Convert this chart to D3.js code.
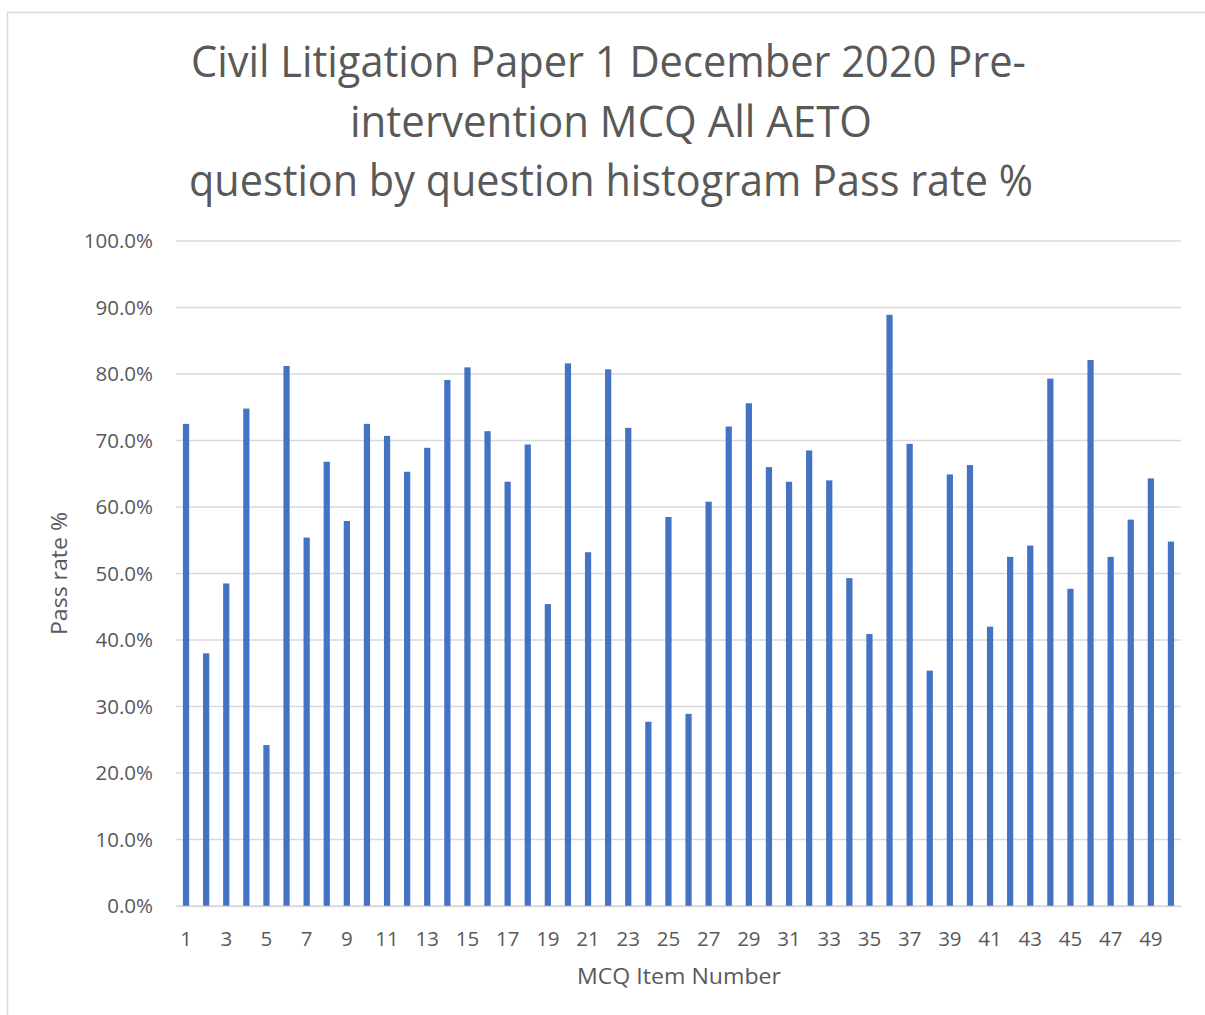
<!DOCTYPE html>
<html>
<head>
<meta charset="utf-8">
<script src="https://cdn.jsdelivr.net/npm/d3@7"></script>
<style>
  html, body { margin: 0; padding: 0; background: #ffffff; }
  svg { display: block; }
  text { font-family: "Open Sans", "Noto Sans", sans-serif; fill: #595959; }
</style>
</head>
<body>
<svg id="chart" width="1205" height="1015"></svg>
<script>
// ---- Data ----
const titleLines = [
  "Civil Litigation Paper 1 December 2020 Pre-",
  "intervention MCQ All AETO",
  "question by question histogram Pass rate %"
];
const xAxisTitle = "MCQ Item Number";
const yAxisTitle = "Pass rate %";
const items = d3.range(1, 51);
const passRates = [
  72.5, 38.0, 48.5, 74.8, 24.2, 81.2, 55.4, 66.8, 57.9, 72.5,
  70.7, 65.3, 68.9, 79.1, 81.0, 71.4, 63.8, 69.4, 45.4, 81.6,
  53.2, 80.7, 71.9, 27.7, 58.5, 28.9, 60.8, 72.1, 75.6, 66.0,
  63.8, 68.5, 64.0, 49.3, 40.9, 88.9, 69.5, 35.4, 64.9, 66.3,
  42.0, 52.5, 54.2, 79.3, 47.7, 82.1, 52.5, 58.1, 64.3, 54.8
];
const yTicks = [0, 10, 20, 30, 40, 50, 60, 70, 80, 90, 100];
const xTickLabels = items.filter(d => d % 2 === 1);

// ---- Layout ----
const svg = d3.select("#chart");
const plot = { left: 176, right: 1181, top: 241, bottom: 906 };

// chart border (Excel chart area)
svg.append("rect")
  .attr("x", 7.5).attr("y", 12.5)
  .attr("width", 1210).attr("height", 1020)
  .attr("fill", "#ffffff")
  .attr("stroke", "#d9d9d9").attr("stroke-width", 1.5);

const x = d3.scaleBand()
  .domain(items)
  .range([plot.left, plot.right])
  .paddingInner(0.69).paddingOuter(0.345);

const y = d3.scaleLinear()
  .domain([0, 100])
  .range([plot.bottom, plot.top]);

// gridlines
svg.append("g")
  .selectAll("line")
  .data(yTicks)
  .join("line")
  .attr("x1", plot.left).attr("x2", plot.right)
  .attr("y1", d => y(d)).attr("y2", d => y(d))
  .attr("stroke", "#d9d9d9").attr("stroke-width", 1.3);

// y axis labels
const yAxis = d3.axisLeft(y)
  .tickValues(yTicks)
  .tickSize(0)
  .tickPadding(23)
  .tickFormat(d => d.toFixed(1) + "%");
const yG = svg.append("g")
  .attr("transform", `translate(${plot.left},0)`)
  .call(yAxis);
yG.select(".domain").remove();
yG.selectAll("text")
  .style("font-size", "20.5px")
  .style("fill", "#595959")
  .style("font-family", "'Open Sans', sans-serif");

// bars
svg.append("g")
  .selectAll("rect")
  .data(items)
  .join("rect")
  .attr("x", d => x(d))
  .attr("width", x.bandwidth())
  .attr("y", (d, i) => y(passRates[i]))
  .attr("height", (d, i) => y(0) - y(passRates[i]))
  .attr("fill", "#4472C4");

// x axis
const xAxis = d3.axisBottom(x)
  .tickValues(xTickLabels)
  .tickSize(0)
  .tickPadding(25);
const xG = svg.append("g")
  .attr("transform", `translate(0,${plot.bottom})`)
  .call(xAxis);
xG.select(".domain")
  .attr("stroke", "#d9d9d9").attr("stroke-width", 1.3);
xG.selectAll("text")
  .style("font-size", "20.5px")
  .style("fill", "#595959")
  .style("font-family", "'Open Sans', sans-serif");

// axis titles
svg.append("text")
  .attr("x", 577)
  .attr("y", 984)
  .attr("textLength", 204)
  .attr("lengthAdjust", "spacingAndGlyphs")
  .style("font-size", "21px")
  .text(xAxisTitle);

svg.append("text")
  .attr("transform", `translate(67,635) rotate(-90)`)
  .attr("textLength", 123)
  .attr("lengthAdjust", "spacingAndGlyphs")
  .style("font-size", "21px")
  .text(yAxisTitle);

// title
const titleSpecs = [
  { x: 191, y: 77, len: 835 },
  { x: 350, y: 137, len: 522 },
  { x: 189, y: 196, len: 844 }
];
svg.append("g")
  .selectAll("text")
  .data(titleLines)
  .join("text")
  .attr("x", (d, i) => titleSpecs[i].x)
  .attr("y", (d, i) => titleSpecs[i].y)
  .attr("textLength", (d, i) => titleSpecs[i].len)
  .attr("lengthAdjust", "spacingAndGlyphs")
  .style("font-size", "43px")
  .text(d => d);
</script>
</body>
</html>
